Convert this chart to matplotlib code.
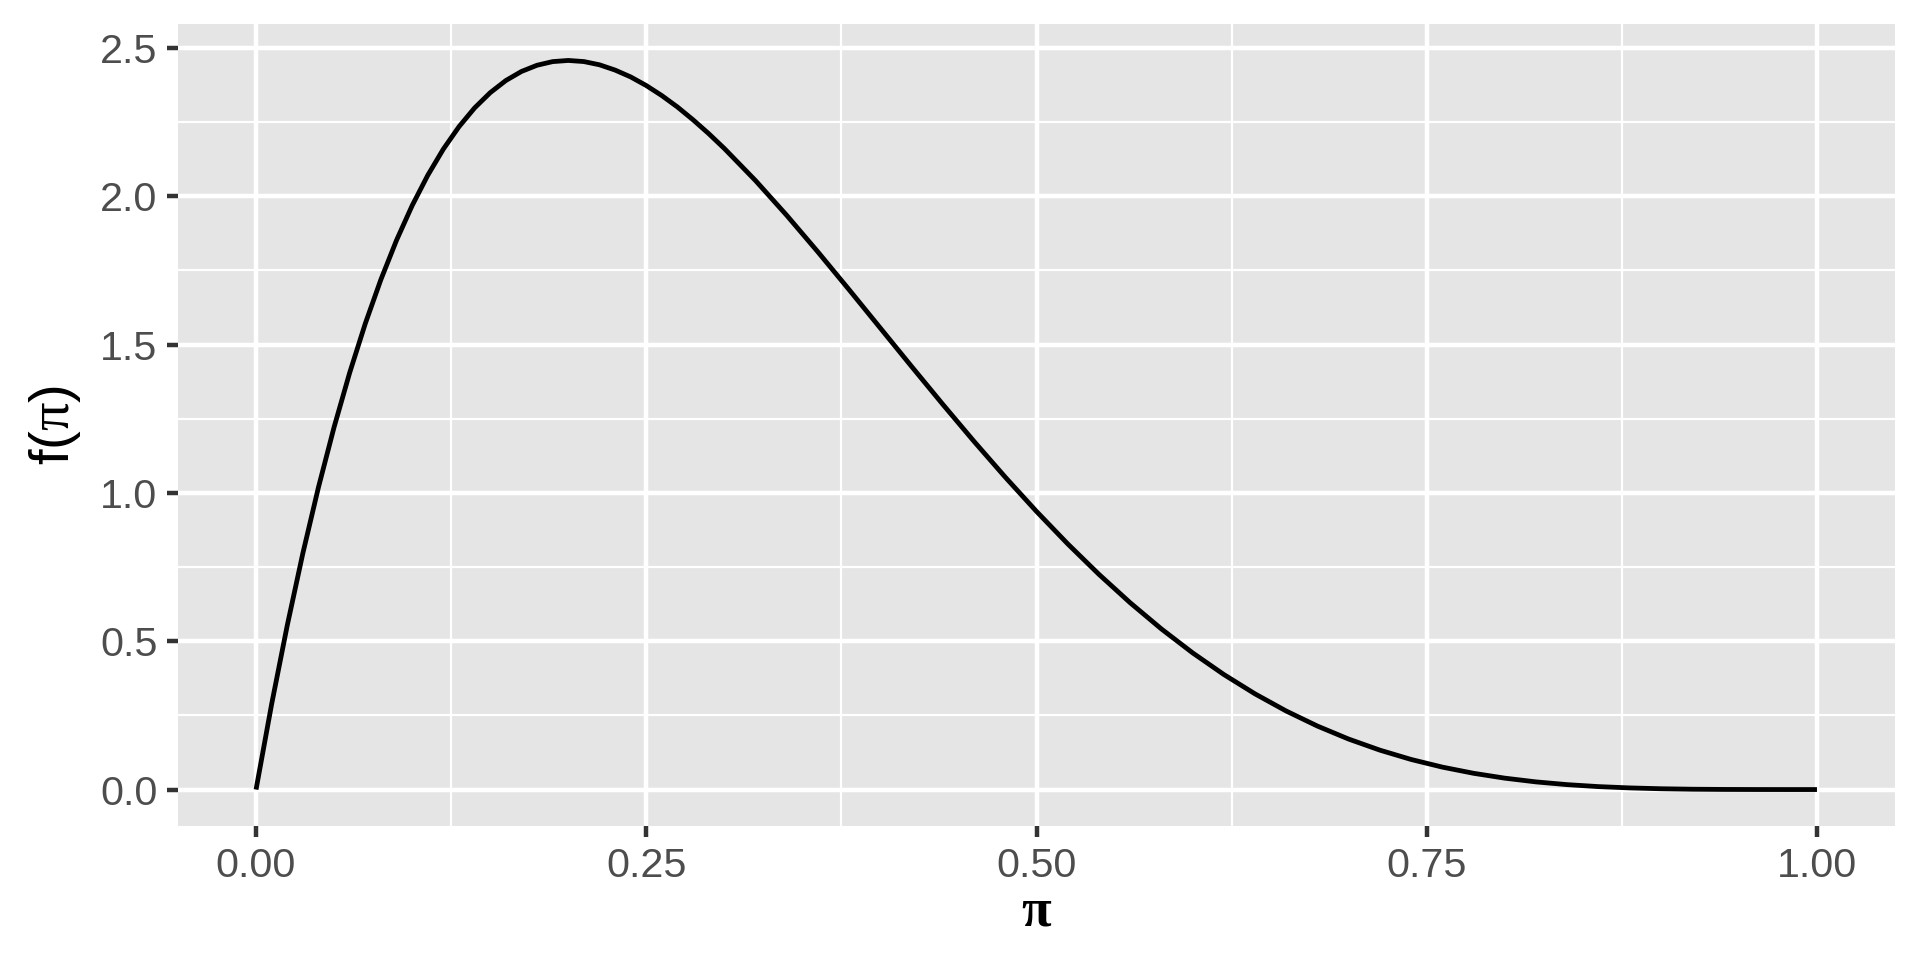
import matplotlib
matplotlib.use("Agg")
import matplotlib.pyplot as plt

# values
pi_vals = [0.00, 0.01, 0.02, 0.03, 0.04, 0.05, 0.06, 0.07, 0.08, 0.09, 0.10,
           0.11, 0.12, 0.13, 0.14, 0.15, 0.16, 0.17, 0.18, 0.19, 0.20,
           0.22, 0.24, 0.26, 0.28, 0.30, 0.32, 0.34, 0.36, 0.38, 0.40,
           0.42, 0.44, 0.46, 0.48, 0.50, 0.52, 0.54, 0.56, 0.58, 0.60,
           0.62, 0.64, 0.66, 0.68, 0.70, 0.72, 0.74, 0.76, 0.78, 0.80,
           0.82, 0.84, 0.86, 0.88, 0.90, 0.92, 0.94, 0.96, 0.98, 1.00,
           0.21, 0.23, 0.25, 0.27, 0.29]
density = [0.0000, 0.2882, 0.5534, 0.7967, 1.0192, 1.2217, 1.4053, 1.5709, 1.7193, 1.8516, 1.9683,
           2.0704, 2.1589, 2.2342, 2.2975, 2.3489, 2.3898, 2.4204, 2.4414, 2.4537, 2.4576,
           2.4430, 2.4021, 2.3390, 2.2574, 2.1609, 2.0526, 1.9354, 1.8119, 1.6845, 1.5552,
           1.4259, 1.2982, 1.1734, 1.0529, 0.9375, 0.8281, 0.7254, 0.6297, 0.5414, 0.4608,
           0.3878, 0.3225, 0.2646, 0.2139, 0.1701, 0.1328, 0.1014, 0.0756, 0.0548, 0.0384,
           0.0258, 0.0165, 0.0099, 0.0055, 0.0027, 0.0011, 0.0004, 0.0001, 0.0000, 0.0000,
           2.4539, 2.4252, 2.3730, 2.3006, 2.2109]

x_ticks = [0.00, 0.25, 0.50, 0.75, 1.00]
x_tick_labels = ["0.00", "0.25", "0.50", "0.75", "1.00"]
y_ticks = [0.0, 0.5, 1.0, 1.5, 2.0, 2.5]
y_tick_labels = ["0.0", "0.5", "1.0", "1.5", "2.0", "2.5"]
x_minor = [0.125, 0.375, 0.625, 0.875]
y_minor = [0.25, 0.75, 1.25, 1.75, 2.25]

plt.rcParams['font.family'] = ['Liberation Sans', 'DejaVu Sans']
plt.rcParams['mathtext.fontset'] = 'custom'
plt.rcParams['mathtext.rm'] = 'Liberation Serif'
plt.rcParams['mathtext.it'] = 'Liberation Serif'
plt.rcParams['mathtext.bf'] = 'Liberation Serif:bold'

pts = sorted(zip(pi_vals, density))
xs = [p[0] for p in pts]
ys = [p[1] for p in pts]

fig = plt.figure(figsize=(6.4, 3.2), dpi=300)
ax = fig.add_axes([178/1920, 1-826/960, (1895-178)/1920, (826-24)/960])
ax.set_facecolor('#E5E5E5')

for v in x_minor:
    ax.axvline(v, color='white', lw=0.53, zorder=0.5)
for v in y_minor:
    ax.axhline(v, color='white', lw=0.53, zorder=0.5)
for v in x_ticks:
    ax.axvline(v, color='white', lw=1.07, zorder=0.6)
for v in y_ticks:
    ax.axhline(v, color='white', lw=1.07, zorder=0.6)

ax.plot(xs, ys, color='black', lw=1.15, zorder=2, solid_capstyle='butt',
        solid_joinstyle='round')

xmin, xmax = min(xs), max(xs)
ymin, ymax = min(ys), max(ys)
ax.set_xlim(xmin - 0.05 * (xmax - xmin), xmax + 0.05 * (xmax - xmin))
ax.set_ylim(ymin - 0.05 * (ymax - ymin), ymax + 0.05 * (ymax - ymin))

ax.set_xticks(x_ticks)
ax.set_xticklabels(x_tick_labels)
ax.set_yticks(y_ticks)
ax.set_yticklabels(y_tick_labels)
ax.tick_params(axis='both', length=2.75, width=1.07, color='#333333',
               labelcolor='#4D4D4D', labelsize=9.9, pad=2.2)
for s in ax.spines.values():
    s.set_visible(False)

ax.set_xlabel(r'$\mathbf{\pi}$', fontsize=13, labelpad=0.5, color='black')
ax.set_ylabel(r'f($\mathrm{\pi}$)', fontsize=13.5, labelpad=4, color='black')

fig.savefig('out.png', dpi=300, facecolor='white')
